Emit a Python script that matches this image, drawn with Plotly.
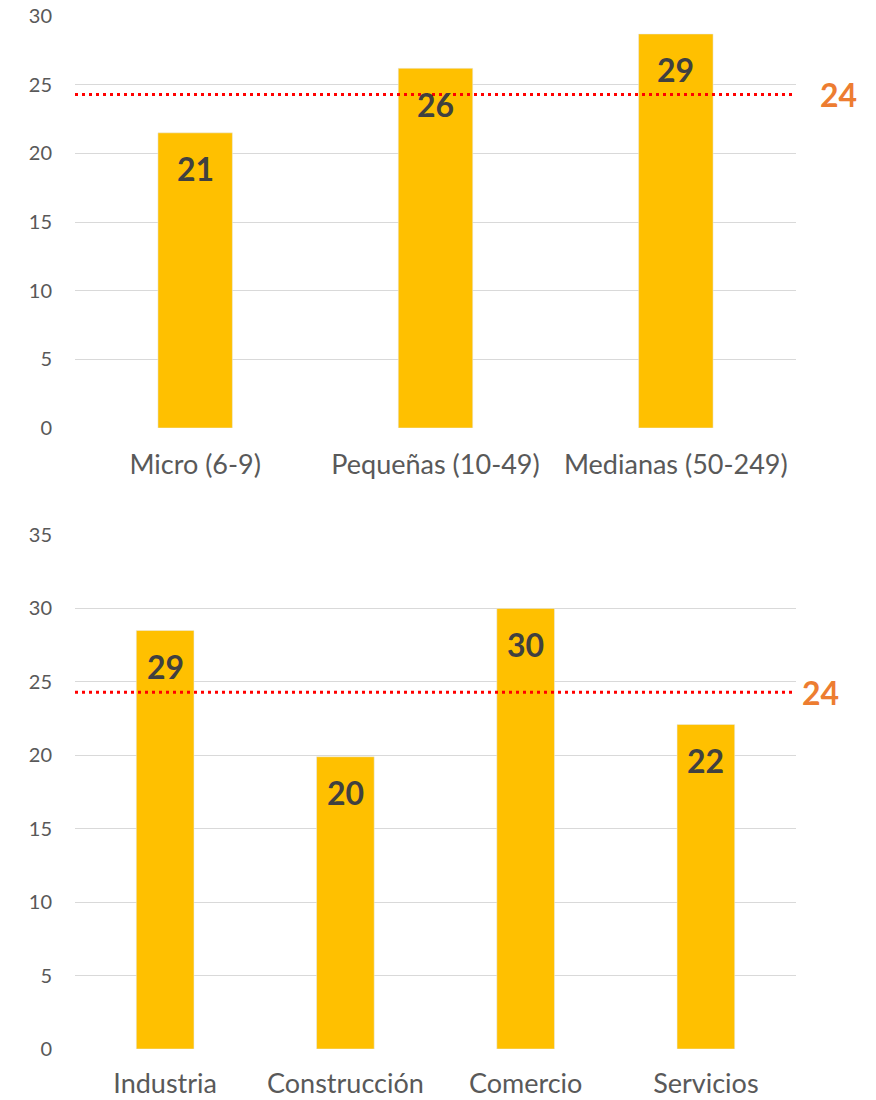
import plotly.graph_objects as go

# Top chart: by company size
size_categories = ["Micro (6-9)", "Pequeñas (10-49)", "Medianas (50-249)"]
size_values = [21.5, 26.2, 28.7]
size_labels = ["21", "26", "29"]

# Bottom chart: by sector
sector_categories = ["Industria", "Construcción", "Comercio", "Servicios"]
sector_values = [28.5, 19.9, 30.0, 22.1]
sector_labels = ["29", "20", "30", "22"]

average_value = 24.3
average_label = "24"

top_ticks = [0, 5, 10, 15, 20, 25, 30]
bottom_ticks = [0, 5, 10, 15, 20, 25, 30, 35]

W, H = 876, 1100
OFF = 8  # page body margin
BAR = "#FFC000"
GRID = "#D9D9D9"
TICK = "#595959"
FONT = "Lato"

def px_y(p):
    return 1 - (p - OFF) / H

def px_x(p):
    return (p - OFF) / W

fig = go.Figure()
fig.add_trace(go.Bar(x=size_categories, y=size_values, marker_color=BAR,
                     width=0.31, xaxis="x", yaxis="y", hoverinfo="skip"))
fig.add_trace(go.Bar(x=sector_categories, y=sector_values, marker_color=BAR,
                     width=0.32, xaxis="x2", yaxis="y2", hoverinfo="skip"))

xdom = [px_x(75), px_x(796)]
axis_common = dict(showgrid=False, zeroline=False, showline=False,
                   tickfont=dict(family=FONT, size=27, color=TICK),
                   ticks="", fixedrange=True, automargin=False,
                   ticklabeloverflow="allow")
yaxis_common = dict(showgrid=True, gridcolor=GRID, gridwidth=1.3, zeroline=False,
                    showline=False, tickfont=dict(family=FONT, size=20, color=TICK),
                    ticks="", ticklabelstandoff=22, automargin=False, fixedrange=True,
                    ticklabeloverflow="allow")

fig.update_layout(
    width=W, height=H,
    margin=dict(l=0, r=0, t=0, b=0),
    paper_bgcolor="white", plot_bgcolor="white",
    showlegend=False,
    font=dict(family=FONT),
    xaxis=dict(domain=xdom, anchor="y", ticklabelstandoff=18, **axis_common),
    yaxis=dict(domain=[px_y(428), px_y(16)], anchor="x", range=[0, 30.01],
               tickvals=top_ticks, **yaxis_common),
    xaxis2=dict(domain=xdom, anchor="y2", ticklabelstandoff=16, **axis_common),
    yaxis2=dict(domain=[px_y(1049), px_y(535)], anchor="x2", range=[0, 35],
                tickvals=bottom_ticks, **yaxis_common),
)

annotations = []
for cats, vals, labs, xr, yr in [(size_categories, size_values, size_labels, "x", "y"),
                                  (sector_categories, sector_values, sector_labels, "x2", "y2")]:
    for c, v, t in zip(cats, vals, labs):
        annotations.append(dict(x=c, y=v, xref=xr, yref=yr, text="<b>%s</b>" % t,
                                showarrow=False, yanchor="middle", yshift=-36,
                                font=dict(family=FONT, size=32, color="#404040")))

# average lines and labels
for yr, xd, lx in [("y", "x domain", px_x(818)), ("y2", "x2 domain", px_x(800))]:
    fig.add_shape(type="line", xref=xd, yref=yr, x0=0, x1=1,
                  y0=average_value, y1=average_value,
                  line=dict(color="#FF0000", width=3, dash="3px,4px"))
    annotations.append(dict(x=lx, y=average_value, xref="paper", yref=yr,
                            text="<b>%s</b>" % average_label, showarrow=False,
                            xanchor="left", yanchor="middle",
                            font=dict(family=FONT, size=32, color="#ED7D31")))

fig.update_layout(annotations=annotations)
fig.write_html("out.html")
